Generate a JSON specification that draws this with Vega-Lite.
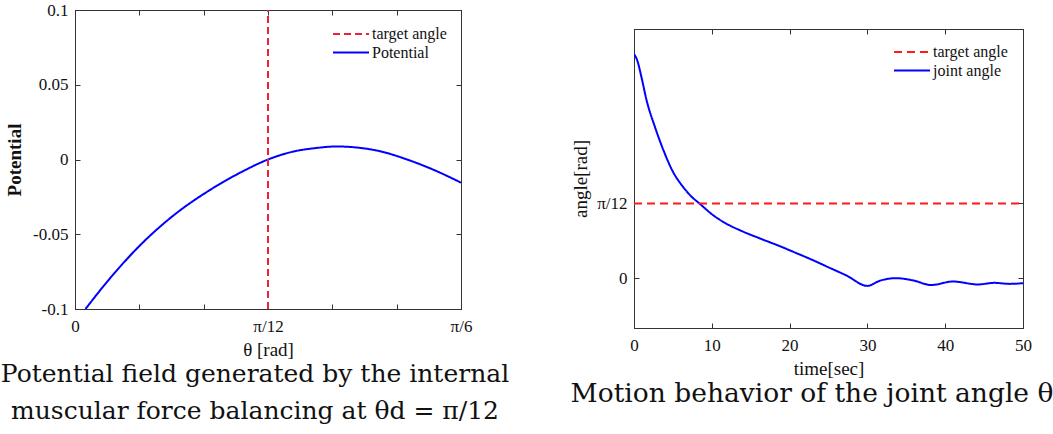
{
  "$schema": "https://vega.github.io/schema/vega-lite/v6.json",
  "autosize": {"type": "pad"},
  "padding": {"left": 0, "top": 0, "right": 0, "bottom": 0},
  "background": "white",
  "datasets": {
    "potential": [
      {"theta": 0.0142, "P": -0.1, "series": "Potential"},
      {"theta": 0.0452, "P": -0.0808, "series": "Potential"},
      {"theta": 0.0905, "P": -0.0563, "series": "Potential"},
      {"theta": 0.1357, "P": -0.0366, "series": "Potential"},
      {"theta": 0.1808, "P": -0.0211, "series": "Potential"},
      {"theta": 0.2261, "P": -0.0083, "series": "Potential"},
      {"theta": 0.2618, "P": 0.0, "series": "Potential"},
      {"theta": 0.2961, "P": 0.0053, "series": "Potential"},
      {"theta": 0.3256, "P": 0.0076, "series": "Potential"},
      {"theta": 0.355, "P": 0.0087, "series": "Potential"},
      {"theta": 0.4093, "P": 0.006, "series": "Potential"},
      {"theta": 0.4544, "P": -0.0007, "series": "Potential"},
      {"theta": 0.4906, "P": -0.0078, "series": "Potential"},
      {"theta": 0.5236, "P": -0.0155, "series": "Potential"}
    ],
    "target1": [{"theta": 0.2617994, "series": "target angle"}],
    "joint": [
      {"t": 0, "angle": 0.785, "series": "joint angle"},
      {"t": 0.4, "angle": 0.764, "series": "joint angle"},
      {"t": 1.0, "angle": 0.699, "series": "joint angle"},
      {"t": 1.6, "angle": 0.625, "series": "joint angle"},
      {"t": 2.7, "angle": 0.529, "series": "joint angle"},
      {"t": 3.8, "angle": 0.447, "series": "joint angle"},
      {"t": 5.0, "angle": 0.373, "series": "joint angle"},
      {"t": 6.3, "angle": 0.32, "series": "joint angle"},
      {"t": 7.3, "angle": 0.288, "series": "joint angle"},
      {"t": 8.4, "angle": 0.2618, "series": "joint angle"},
      {"t": 10.2, "angle": 0.22, "series": "joint angle"},
      {"t": 12.2, "angle": 0.186, "series": "joint angle"},
      {"t": 13.6, "angle": 0.168, "series": "joint angle"},
      {"t": 16.2, "angle": 0.139, "series": "joint angle"},
      {"t": 18.75, "angle": 0.112, "series": "joint angle"},
      {"t": 20.5, "angle": 0.092, "series": "joint angle"},
      {"t": 23.0, "angle": 0.063, "series": "joint angle"},
      {"t": 25.0, "angle": 0.038, "series": "joint angle"},
      {"t": 27.3, "angle": 0.0095, "series": "joint angle"},
      {"t": 30.0, "angle": -0.027, "series": "joint angle"},
      {"t": 31.6, "angle": -0.009, "series": "joint angle"},
      {"t": 33.7, "angle": 0.0, "series": "joint angle"},
      {"t": 35.9, "angle": -0.008, "series": "joint angle"},
      {"t": 38.2, "angle": -0.024, "series": "joint angle"},
      {"t": 41.0, "angle": -0.0117, "series": "joint angle"},
      {"t": 44.2, "angle": -0.022, "series": "joint angle"},
      {"t": 46.3, "angle": -0.0164, "series": "joint angle"},
      {"t": 48.3, "angle": -0.02, "series": "joint angle"},
      {"t": 50, "angle": -0.0175, "series": "joint angle"}
    ],
    "target2": [{"angle": 0.2617994, "series": "target angle"}],
    "empty": []
  },
  "resolve": {
    "scale": {"color": "independent", "strokeDash": "independent"},
    "legend": {"color": "independent", "strokeDash": "independent"}
  },
  "spacing": 60,
  "hconcat": [
    {
      "width": 386,
      "height": 299,
      "view": {"stroke": "#333333"},
      "title": {
        "text": ["Potential field generated by the internal", "muscular force balancing at θd = π/12"],
        "orient": "bottom",
        "anchor": "middle",
        "frame": "group",
        "dx": -13,
        "offset": 3,
        "fontSize": 25,
        "lineHeight": 37
      },
      "layer": [
        {
          "data": {"name": "potential"},
          "mark": {"type": "line", "interpolate": "monotone", "strokeWidth": 2, "clip": true},
          "encoding": {
            "x": {
              "field": "theta", "type": "quantitative",
              "scale": {"domain": [0, 0.5235988], "nice": false, "zero": false},
              "axis": {
                "orient": "bottom",
                "values": [0, 0.0872665, 0.1745329, 0.2617994, 0.3490659, 0.4363323, 0.5235988],
                "labelExpr": "abs(datum.value) < 0.001 ? '0' : abs(datum.value - 0.2617994) < 0.001 ? 'π/12' : abs(datum.value - 0.5235988) < 0.001 ? 'π/6' : ''",
                "title": "θ [rad]",
                "labelFlush": false,
                "labelOverlap": false,
                "labelPadding": 14,
                "titlePadding": 6
              }
            },
            "y": {
              "field": "P", "type": "quantitative",
              "scale": {"domain": [-0.1, 0.1], "nice": false, "zero": false},
              "axis": {
                "orient": "left",
                "values": [-0.1, -0.05, 0, 0.05, 0.1],
                "labelExpr": "datum.value == 0 ? '0' : (datum.value < 0 ? '-' : '') + format(abs(datum.value), '~g')",
                "title": "Potential",
                "titleFontWeight": "bold",
                "labelPadding": 12,
                "titlePadding": 8,
                "labelFlush": false,
                "labelOverlap": false
              }
            },
            "color": {
              "field": "series", "type": "nominal",
              "scale": {"domain": ["target angle", "Potential"], "range": ["#f0203a", "#0000ff"]},
              "legend": {"orient": "none", "legendX": 257, "legendY": 16, "title": null}
            },
            "strokeDash": {
              "field": "series", "type": "nominal",
              "scale": {"domain": ["target angle", "Potential"], "range": [[7, 4], [1, 0]]},
              "legend": {"orient": "none", "legendX": 257, "legendY": 16, "title": null}
            }
          }
        },
        {
          "data": {"name": "target1"},
          "mark": {"type": "rule", "strokeWidth": 2},
          "encoding": {
            "x": {
              "field": "theta", "type": "quantitative",
              "axis": {
                "orient": "top",
                "values": [0, 0.0872665, 0.1745329, 0.2617994, 0.3490659, 0.4363323, 0.5235988],
                "labels": false,
                "title": null
              }
            },
            "y": {
              "datum": -0.1, "type": "quantitative",
              "axis": {"orient": "right", "values": [-0.1, -0.05, 0, 0.05, 0.1], "labels": false, "title": null}
            },
            "y2": {"datum": 0.1},
            "color": {"field": "series", "type": "nominal"},
            "strokeDash": {"field": "series", "type": "nominal"}
          }
        }
      ]
    },
    {
      "spacing": 17,
      "vconcat": [
        {
          "width": 389,
          "height": 1,
          "view": {"stroke": null},
          "data": {"name": "empty"},
          "mark": "point"
        },
        {
          "width": 389,
          "height": 299,
          "view": {"stroke": "#333333"},
          "title": {
            "text": "Motion behavior of the joint angle θ",
            "orient": "bottom",
            "anchor": "middle",
            "frame": "group",
            "dx": -16.5,
            "offset": 3,
            "fontSize": 26.5
          },
          "layer": [
            {
              "data": {"name": "joint"},
              "mark": {"type": "line", "interpolate": "monotone", "strokeWidth": 2, "clip": true},
              "encoding": {
                "x": {
                  "field": "t", "type": "quantitative",
                  "scale": {"domain": [0, 50], "nice": false, "zero": false},
                  "axis": {
                    "orient": "bottom",
                    "values": [0, 10, 20, 30, 40, 50],
                    "title": "time[sec]",
                    "labelFlush": false,
                    "labelPadding": 14,
                    "titlePadding": 6
                  }
                },
                "y": {
                  "field": "angle", "type": "quantitative",
                  "scale": {"domain": [-0.1745329, 0.8726646], "nice": false, "zero": false},
                  "axis": {
                    "orient": "left",
                    "values": [0, 0.2617994],
                    "labelExpr": "datum.value < 0.01 ? '0' : 'π/12'",
                    "title": "angle[rad]",
                    "labelPadding": 12,
                    "titlePadding": 6,
                    "labelFlush": false
                  }
                },
                "color": {
                  "field": "series", "type": "nominal",
                  "scale": {"domain": ["target angle", "joint angle"], "range": ["#ff1a1a", "#0000ff"]},
                  "legend": {"orient": "none", "legendX": 259, "legendY": 34, "title": null}
                },
                "strokeDash": {
                  "field": "series", "type": "nominal",
                  "scale": {"domain": ["target angle", "joint angle"], "range": [[8, 5], [1, 0]]},
                  "legend": {"orient": "none", "legendX": 259, "legendY": 34, "title": null}
                }
              }
            },
            {
              "data": {"name": "target2"},
              "mark": {"type": "rule", "strokeWidth": 2},
              "encoding": {
                "y": {
                  "field": "angle", "type": "quantitative",
                  "axis": {"orient": "right", "values": [0, 0.2617994], "labels": false, "title": null}
                },
                "x": {
                  "datum": 0, "type": "quantitative",
                  "axis": {
                    "orient": "top",
                    "values": [0, 10, 20, 30, 40, 50],
                    "labels": false,
                    "title": null
                  }
                },
                "x2": {"datum": 50},
                "color": {"field": "series", "type": "nominal"},
                "strokeDash": {"field": "series", "type": "nominal"}
              }
            }
          ]
        }
      ]
    }
  ],
  "config": {
    "font": "Liberation Serif",
    "view": {"stroke": null},
    "axis": {
      "grid": false,
      "domain": true,
      "domainWidth": 1,
      "domainColor": "#333333",
      "tickColor": "#333333",
      "tickSize": -5,
      "labelColor": "#111111",
      "titleColor": "#111111",
      "labelFont": "Liberation Serif",
      "titleFont": "Liberation Serif",
      "labelFontSize": 17,
      "titleFontSize": 19,
      "titleFontWeight": "normal"
    },
    "legend": {
      "symbolType": "stroke",
      "symbolSize": 1296,
      "symbolStrokeWidth": 2,
      "labelFont": "Liberation Serif",
      "labelFontSize": 16,
      "labelColor": "#111111",
      "labelOffset": 2,
      "clipHeight": 16,
      "rowPadding": 2.5,
      "padding": 0
    },
    "title": {
      "font": "DejaVu Serif",
      "fontWeight": "normal",
      "color": "#111111"
    }
  }
}
